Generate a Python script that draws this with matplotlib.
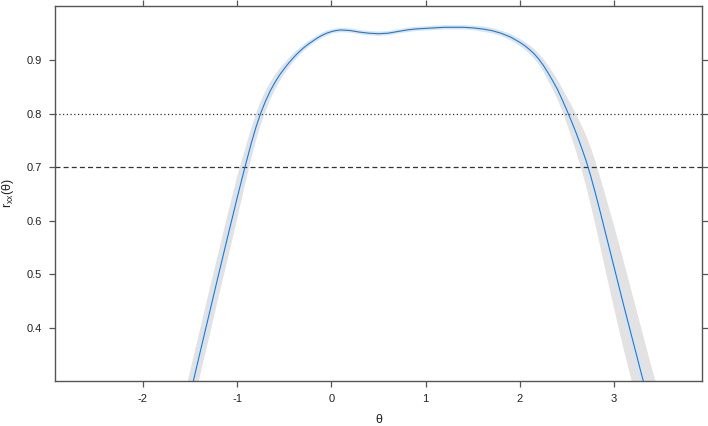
import matplotlib
matplotlib.use("Agg")
import matplotlib.pyplot as plt
import numpy as np

# theta grid and reliability curve
theta = [-1.6, -1.5, -1.4, -1.3, -1.2, -1.1, -1.05, -1.0, -0.95, -0.9, -0.85, -0.8, -0.75,
         -0.7, -0.65, -0.6, -0.55, -0.5, -0.45, -0.4, -0.35, -0.3, -0.25, -0.2, -0.15,
         -0.1, -0.05, 0.0, 0.05, 0.1, 0.2, 0.3, 0.4, 0.5, 0.6, 0.7, 0.8, 0.9, 1.0,
         1.1, 1.2, 1.3, 1.4, 1.5, 1.6, 1.7, 1.8, 1.9, 1.95, 2.0, 2.05, 2.1, 2.15,
         2.2, 2.25, 2.3, 2.35, 2.4, 2.45, 2.5, 2.55, 2.6, 2.65, 2.7, 2.75, 2.8, 2.85,
         2.9, 2.95, 3.0, 3.05, 3.1, 3.15, 3.2, 3.25, 3.3, 3.35, 3.4, 3.5]
rxx = [0.200, 0.275, 0.350, 0.424, 0.498, 0.571, 0.607, 0.643, 0.678, 0.712, 0.745, 0.775, 0.801,
       0.823, 0.842, 0.858, 0.872, 0.884, 0.895, 0.905, 0.914, 0.922, 0.929, 0.935, 0.941,
       0.946, 0.950, 0.953, 0.955, 0.956, 0.955, 0.952, 0.950, 0.949, 0.950, 0.953, 0.956, 0.958, 0.959,
       0.960, 0.961, 0.961, 0.961, 0.960, 0.958, 0.955, 0.950, 0.943, 0.938, 0.933, 0.927, 0.920, 0.912,
       0.902, 0.890, 0.876, 0.861, 0.845, 0.826, 0.806, 0.785, 0.763, 0.739, 0.714, 0.685, 0.653, 0.619,
       0.584, 0.549, 0.514, 0.479, 0.444, 0.410, 0.376, 0.342, 0.308, 0.275, 0.242, 0.180]
# half-width of the grey confidence band (reliability units)
band = [0.044, 0.044, 0.043, 0.043, 0.042, 0.042, 0.041, 0.040, 0.036, 0.032, 0.028, 0.025, 0.022,
        0.019, 0.016, 0.014, 0.012, 0.010, 0.009, 0.008, 0.007, 0.006, 0.006, 0.005, 0.005,
        0.005, 0.005, 0.004, 0.004, 0.004, 0.004, 0.004, 0.004, 0.004, 0.004, 0.004, 0.004, 0.004, 0.004,
        0.004, 0.004, 0.004, 0.004, 0.004, 0.005, 0.005, 0.005, 0.006, 0.006, 0.007, 0.007, 0.008, 0.009,
        0.010, 0.012, 0.014, 0.016, 0.018, 0.021, 0.025, 0.030, 0.035, 0.041, 0.047, 0.053, 0.059, 0.064,
        0.069, 0.073, 0.077, 0.080, 0.082, 0.083, 0.083, 0.084, 0.084, 0.084, 0.084, 0.084]

ref_dotted = 0.8
ref_dashed = 0.7
xticks = [-2, -1, 0, 1, 2, 3]
yticks = [0.4, 0.5, 0.6, 0.7, 0.8, 0.9]

plt.rcParams['font.family'] = ['Liberation Sans', 'DejaVu Sans']
plt.rcParams['mathtext.default'] = 'regular'

fig = plt.figure(figsize=(7.08, 4.26), dpi=100)
ax = fig.add_axes([55/708, 1-381/426, (702-55)/708, (381-5.5)/426])

th = np.array(theta)
r = np.array(rxx)
b = np.array(band)
ax.fill_between(th, r - b, r + b, color='#e2e2e2', lw=0, zorder=1)
ax.plot(th, r, color='#0080ff', lw=0.8, zorder=3)
ax.axhline(ref_dotted, color='#333333', ls=(0, (1, 2)), lw=0.9, zorder=2)
ax.axhline(ref_dashed, color='#333333', ls=(0, (4, 2.5)), lw=0.9, zorder=2)

ax.set_xlim(-2.934, 3.934)
ax.set_ylim(0.301, 1.0017)
ax.set_xticks(xticks)
ax.set_xticklabels([str(v) for v in xticks])
ax.set_yticks(yticks)
ax.set_yticklabels([f"{v:.1f}" for v in yticks])

for s in ax.spines.values():
    s.set_color('#555555')
    s.set_linewidth(1.0)
ax.tick_params(direction='out', length=4.5, width=0.9, color='#555555',
               labelsize=8, labelcolor='#222222', pad=5,
               top=True, right=True, labeltop=False, labelright=False)

ax.set_xlabel('θ', fontsize=9, color='#222222')
ax.xaxis.set_label_coords(0.5, -0.087)
ax.set_ylabel('r$_{xx}$(θ)', fontsize=9, color='#222222')
ax.yaxis.set_label_coords(-0.060, 0.5)

fig.savefig('out.png', dpi=100)
